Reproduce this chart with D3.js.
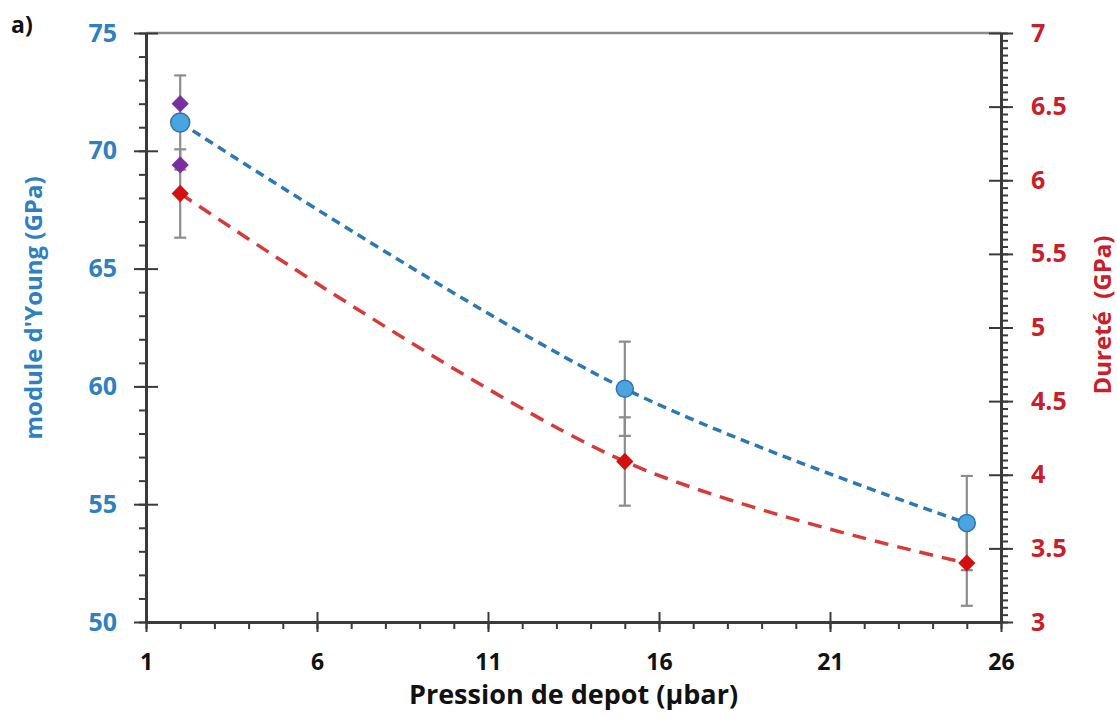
<!DOCTYPE html>
<html>
<head>
<meta charset="utf-8">
<script src="https://cdn.jsdelivr.net/npm/d3@7"></script>
<style>
  body { margin: 0; background: #fff; }
  svg text { font-family: "Open Sans", Lato, sans-serif; font-weight: bold; }
</style>
</head>
<body>
<svg class="chart" width="1117" height="719"></svg>
<script>
// values
const pression = [2, 15, 25];
const young = [71.2, 59.9, 54.2];
const youngErr = [2.0, 2.0, 2.0];
const durete = [5.91, 4.09, 3.40];
const dureteErr = [0.3, 0.3, 0.29];
const pressionV = [2, 2];
const youngV = [72.0, 69.4];

const xTicks = [1, 6, 11, 16, 21, 26];
const yLTicks = [50, 55, 60, 65, 70, 75];
const yRTicks = [3, 3.5, 4, 4.5, 5, 5.5, 6, 6.5, 7];

var svg = d3.select('.chart');

var margins = { top: 33, right: 116, bottom: 97, left: 146 };
const width = svg.attr('width') - margins.left - margins.right;
const height = svg.attr('height') - margins.top - margins.bottom;

var g = svg.append('g')
    .attr('transform', 'translate(' + margins.left + ',' + margins.top + ')');

var x = d3.scaleLinear().domain([1, 26]).range([0, width]);
var yL = d3.scaleLinear().domain([50, 75]).range([height, 0]);
var yR = d3.scaleLinear().domain([3, 7]).range([height, 0]);

const axisColor = '#3a3a3a';
const blueText = '#2f80c0';
const redText = '#c8202a';

// top border
g.append('line')
    .attr('x1', 0).attr('x2', width)
    .attr('y1', 0).attr('y2', 0)
    .attr('stroke', '#8a8a8a').attr('stroke-width', 2.5);

// minor ticks (outside only)
g.append('g')
    .attr('transform', 'translate(0,' + height + ')')
    .call(d3.axisBottom(x).tickValues(d3.range(1, 27, 1)).tickSize(7).tickFormat(''))
    .call(a => a.select('.domain').remove())
    .selectAll('line').attr('stroke', axisColor).attr('stroke-width', 2);

g.append('g')
    .call(d3.axisLeft(yL).tickValues(d3.range(50, 75.01, 1)).tickSize(7).tickFormat(''))
    .call(a => a.select('.domain').remove())
    .selectAll('line').attr('stroke', axisColor).attr('stroke-width', 2);

g.append('g')
    .attr('transform', 'translate(' + width + ',0)')
    .call(d3.axisRight(yR).tickValues(d3.range(3, 7.001, 0.05)).tickSize(7).tickFormat(''))
    .call(a => a.select('.domain').remove())
    .selectAll('line').attr('stroke', axisColor).attr('stroke-width', 2);

// major axes
var xAxis = g.append('g')
    .attr('class', 'axis')
    .attr('transform', 'translate(0,' + height + ')')
    .call(d3.axisBottom(x).tickValues(xTicks).tickSize(10).tickPadding(22).tickSizeOuter(0));
xAxis.selectAll('line').attr('y1', -10).attr('y2', 10);
xAxis.selectAll('text').attr('fill', '#111').style('font-size', '23px');

var yLAxis = g.append('g')
    .attr('class', 'axis')
    .call(d3.axisLeft(yL).tickValues(yLTicks).tickSize(12).tickPadding(17).tickSizeOuter(0));
yLAxis.selectAll('line').attr('x1', -12).attr('x2', 12);
yLAxis.selectAll('text').attr('fill', blueText).style('font-size', '25px');

var yRAxis = g.append('g')
    .attr('class', 'axis')
    .attr('transform', 'translate(' + width + ',0)')
    .call(d3.axisRight(yR).tickValues(yRTicks).tickFormat(d3.format('~g'))
        .tickSize(12).tickPadding(18).tickSizeOuter(0));
yRAxis.selectAll('line').attr('x1', -12).attr('x2', 12);
yRAxis.selectAll('text').attr('fill', redText).style('font-size', '25px');

g.selectAll('.axis .domain').attr('stroke', axisColor).attr('stroke-width', 3);
g.selectAll('.axis line').attr('stroke', axisColor).attr('stroke-width', 2);

// error bars
function errorBars(vals, errs, scale) {
    const cap = 6;
    const eb = g.append('g').attr('stroke', '#8c8c8c').attr('stroke-width', 2.2);
    vals.forEach((v, i) => {
        const cx = x(pression[i]);
        const y1 = scale(v + errs[i]), y2 = scale(v - errs[i]);
        eb.append('line').attr('x1', cx).attr('x2', cx).attr('y1', y1).attr('y2', y2);
        eb.append('line').attr('x1', cx - cap).attr('x2', cx + cap).attr('y1', y1).attr('y2', y1);
        eb.append('line').attr('x1', cx - cap).attr('x2', cx + cap).attr('y1', y2).attr('y2', y2);
    });
}
errorBars(young, youngErr, yL);
errorBars(durete, dureteErr, yR);

// dashed trend lines
var lineL = d3.line().x((d, i) => x(pression[i])).y(d => yL(d)).curve(d3.curveCatmullRom);
var lineR = d3.line().x((d, i) => x(pression[i])).y(d => yR(d)).curve(d3.curveCatmullRom);

g.append('path')
    .attr('d', lineR(durete))
    .attr('fill', 'none')
    .attr('stroke', '#d83a3a')
    .attr('stroke-width', 3.5)
    .attr('stroke-dasharray', '14,9');

g.append('path')
    .attr('d', lineL(young))
    .attr('fill', 'none')
    .attr('stroke', '#2b78b5')
    .attr('stroke-width', 3.5)
    .attr('stroke-dasharray', '9,6');

// markers
var diamond = d3.symbol().type(d3.symbolDiamond2).size(190);

g.selectAll('.purple')
    .data(youngV)
    .enter().append('path')
    .attr('class', 'purple')
    .attr('d', diamond)
    .attr('transform', (d, i) => 'translate(' + x(pressionV[i]) + ',' + yL(d) + ')')
    .attr('fill', '#7a2fa0');

g.selectAll('.blue')
    .data(young)
    .enter().append('circle')
    .attr('class', 'blue')
    .attr('r', (d, i) => i === 0 ? 9.5 : 8.5)
    .attr('cx', (d, i) => x(pression[i]))
    .attr('cy', d => yL(d))
    .attr('fill', '#4ba3e0')
    .attr('stroke', '#2e74b0')
    .attr('stroke-width', 1.5);

g.selectAll('.red')
    .data(durete)
    .enter().append('path')
    .attr('class', 'red')
    .attr('d', diamond)
    .attr('transform', (d, i) => 'translate(' + x(pression[i]) + ',' + yR(d) + ')')
    .attr('fill', '#d40f0f');

// titles
svg.append('text')
    .attr('x', 11).attr('y', 33)
    .style('font-size', '23px')
    .attr('fill', '#111')
    .text('a)');

svg.append('text')
    .attr('transform', 'translate(42,' + (margins.top + 275) + ') rotate(-90)')
    .attr('text-anchor', 'middle')
    .style('font-size', '24px')
    .attr('fill', blueText)
    .text("module d'Young (GPa)");

svg.append('text')
    .attr('transform', 'translate(1111,' + (margins.top + 282) + ') rotate(-90)')
    .attr('text-anchor', 'middle')
    .style('font-size', '24px')
    .attr('fill', redText)
    .style('white-space', 'pre')
    .text('Dureté  (GPa)');

svg.append('text')
    .attr('x', margins.left + width / 2).attr('y', 704)
    .attr('text-anchor', 'middle')
    .style('font-size', '27px')
    .attr('fill', '#111')
    .text('Pression de depot (µbar)');
</script>
</body>
</html>
